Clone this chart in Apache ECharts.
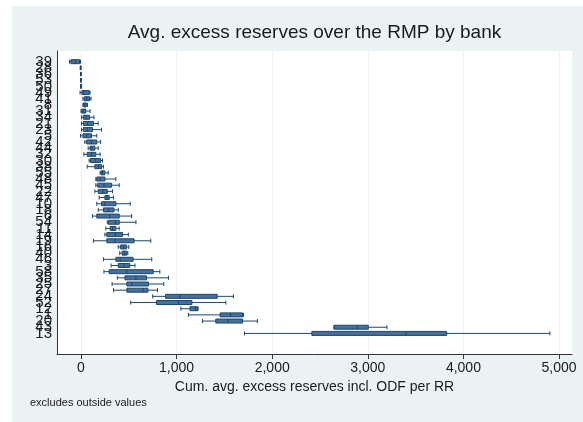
<!DOCTYPE html>
<html><head><meta charset="utf-8">
<script src="https://cdn.jsdelivr.net/npm/echarts@6/dist/echarts.min.js"></script>
<style>html,body{margin:0;padding:0;background:#fff}#c{width:583px;height:422px}</style>
</head><body><div id="c"></div>
<script>
const banks = ['39','28','36','53','50','49','41','8','31','34','21','23','5','42','44','32','30','38','55','48','45','22','47','10','18','6','54','11','14','19','16','40','46','3','58','35','25','27','24','52','12','1','20','43','13'];
const lowWhisker = [-120,-8,-5,-5,-5, -10,20,20,0,5, 5,5,-5,40,75, 30,85,65,200,155, 155,145,190,165,180, 120,275,260,250,130, 390,405,235,315,240, 380,325,340,750,520, 1045,1125,1270,2645,1710];
const q1 = [-105,-6,-3,-3,-2, 10,35,28,8,25, 25,25,20,60,95, 65,100,145,210,165, 175,180,250,215,235, 165,285,305,270,270, 415,430,365,390,295, 460,480,480,885,790, 1140,1455,1410,2650,2415];
const median = [-60,-4,-2,-1,0, 30,60,40,25,55, 70,65,60,110,115, 110,150,185,225,200, 240,230,270,250,290, 300,360,330,360,355, 445,455,410,450,480, 575,530,650,1035,1020, 1200,1565,1540,2890,3400];
const q3 = [-15,-2,0,1,3, 85,90,55,50,90, 130,120,110,165,145, 155,205,215,250,250, 320,275,295,365,345, 400,400,365,435,555, 475,480,545,510,755, 685,705,700,1425,1160, 1220,1690,1690,3005,3825];
const highWhisker = [-5,0,2,3,6, 95,105,68,95,135, 180,215,165,205,180, 200,225,235,285,365, 400,330,340,515,390, 530,575,400,495,730, 500,490,740,565,825, 915,865,800,1595,1515, 1225,1700,1845,3200,4905];
const xTicks = [0,1000,2000,3000,4000,5000];
const titleText = 'Avg. excess reserves over the RMP by bank';
const xTitle = 'Cum. avg. excess reserves incl. ODF per RR';
const noteText = 'excludes outside values';

const boxData = banks.map((b,i)=>[lowWhisker[i], q1[i], median[i], q3[i], highWhisker[i]]);
const FONT = 'Liberation Sans, Arial, sans-serif';
const XMIN = -251, XMAX = 5136;

const chart = echarts.init(document.getElementById('c'), null, {renderer:'canvas'});
chart.setOption({
  animation: false,
  backgroundColor: '#eaf2f3',
  textStyle: {fontFamily: FONT},
  graphic: [
    {type:'rect', shape:{x:0,y:0,width:583,height:6}, style:{fill:'#fff'}, silent:true},
    {type:'rect', shape:{x:0,y:0,width:12,height:422}, style:{fill:'#fff'}, silent:true},
    {type:'text', x:314.5, y:33, style:{text:titleText, font:'19px '+FONT, fill:'#1b1b1b', textAlign:'center', textVerticalAlign:'middle'}},
    {type:'text', x:30, y:403, style:{text:noteText, font:'11px '+FONT, fill:'#1b1b1b', textAlign:'left', textVerticalAlign:'middle'}}
  ],
  grid: [
    {left:57, right:11, top:51, bottom:68, show:true, backgroundColor:'#fff', borderWidth:0},
    {left:57, right:11, top:58.6, bottom:85.5, show:false}
  ],
  xAxis: [
    {gridIndex:0, type:'value', min:XMIN, max:XMAX,
     axisLine:{show:true, onZero:false, lineStyle:{color:'#333', width:1}},
     axisTick:{show:true, length:5, customValues:xTicks, lineStyle:{color:'#333'}},
     axisLabel:{customValues:xTicks, fontSize:14, color:'#1b1b1b', margin:7, fontFamily:FONT,
       formatter:v=>Number(v).toLocaleString('en-US')},
     splitLine:{show:true, lineStyle:{color:'#eaf2f3', width:1}},
     name:xTitle, nameLocation:'middle', nameGap:19,
     nameTextStyle:{fontSize:14, color:'#1b1b1b', fontFamily:FONT, verticalAlign:'top'}},
    {gridIndex:1, type:'value', min:XMIN, max:XMAX, show:false}
  ],
  yAxis: [
    {gridIndex:0, type:'value', min:0, max:1,
     axisLine:{show:true, onZero:false, lineStyle:{color:'#333', width:1}},
     axisTick:{show:false}, axisLabel:{show:false}, splitLine:{show:false}},
    {gridIndex:1, type:'category', data:banks, inverse:true,
     axisLine:{show:false, onZero:false}, axisTick:{show:false}, splitLine:{show:false},
     axisLabel:{interval:0, fontSize:15, color:'#1b1b1b', margin:5, fontFamily:FONT, hideOverlap:false}}
  ],
  series: [{
    type:'boxplot', xAxisIndex:1, yAxisIndex:1,
    data: boxData,
    boxWidth:[4,4],
    itemStyle:{color:'#46709a', borderColor:'#1a476f', borderWidth:1},
    silent:true
  }]
});
</script></body></html>
